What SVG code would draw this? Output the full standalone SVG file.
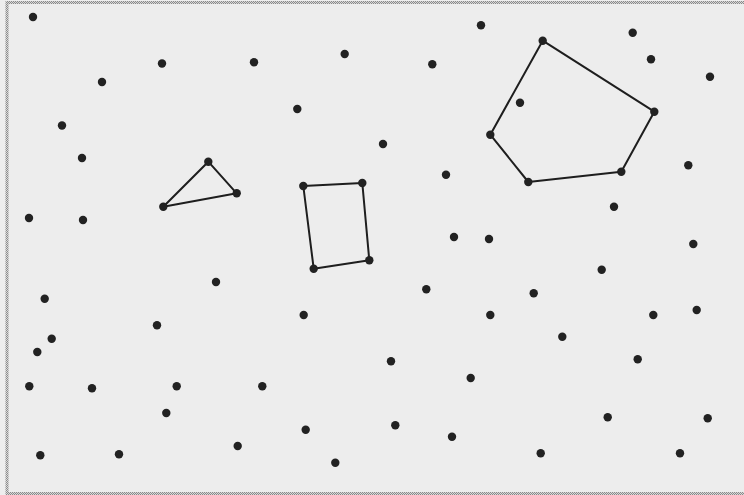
<svg xmlns="http://www.w3.org/2000/svg" width="744" height="495" viewBox="0 0 744 495">
<defs>
<pattern id="chk" patternUnits="userSpaceOnUse" width="2" height="2">
<rect width="2" height="2" fill="#d8d8d8"/>
<rect width="1" height="1" fill="#8a8a8a"/>
<rect x="1" y="1" width="1" height="1" fill="#8a8a8a"/>
</pattern>
</defs>
<style>
.pt{fill:#222222}
.edge{fill:none;stroke:#1e1e1e;stroke-width:2;stroke-linejoin:round}
</style>
<rect x="0" y="0" width="744" height="495" fill="#eeeeee"/>
<rect x="7" y="2.5" width="745" height="491" fill="#ededed" stroke="url(#chk)" stroke-width="3"/>
<g id="connectors">
<polygon class="edge" points="208.3,161.7 236.7,193.3 163.3,206.7"/>
<polygon class="edge" points="303.3,186 362.3,183 369.3,260.3 313.7,268.7"/>
<polygon class="edge" points="542.7,40.7 654.3,111.7 621.3,171.7 528.3,182 490.3,134.7"/>
</g>
<g id="nodes">
<g id="tri1"><circle class="pt" cx="208.3" cy="161.7" r="4.2"/></g>
<g id="tri2"><circle class="pt" cx="236.7" cy="193.3" r="4.2"/></g>
<g id="tri3"><circle class="pt" cx="163.3" cy="206.7" r="4.2"/></g>
<g id="quad1"><circle class="pt" cx="303.3" cy="186" r="4.2"/></g>
<g id="quad2"><circle class="pt" cx="362.3" cy="183" r="4.2"/></g>
<g id="quad3"><circle class="pt" cx="369.3" cy="260.3" r="4.2"/></g>
<g id="quad4"><circle class="pt" cx="313.7" cy="268.7" r="4.2"/></g>
<g id="pent1"><circle class="pt" cx="542.7" cy="40.7" r="4.2"/></g>
<g id="pent2"><circle class="pt" cx="654.3" cy="111.7" r="4.2"/></g>
<g id="pent3"><circle class="pt" cx="621.3" cy="171.7" r="4.2"/></g>
<g id="pent4"><circle class="pt" cx="528.3" cy="182" r="4.2"/></g>
<g id="pent5"><circle class="pt" cx="490.3" cy="134.7" r="4.2"/></g>
<g id="p1"><circle class="pt" cx="33" cy="17" r="4.2"/></g>
<g id="p2"><circle class="pt" cx="481" cy="25.3" r="4.2"/></g>
<g id="p3"><circle class="pt" cx="632.7" cy="32.7" r="4.2"/></g>
<g id="p4"><circle class="pt" cx="651" cy="59.3" r="4.2"/></g>
<g id="p5"><circle class="pt" cx="710" cy="76.7" r="4.2"/></g>
<g id="p6"><circle class="pt" cx="102" cy="82" r="4.2"/></g>
<g id="p7"><circle class="pt" cx="162" cy="63.5" r="4.2"/></g>
<g id="p8"><circle class="pt" cx="254" cy="62.3" r="4.2"/></g>
<g id="p9"><circle class="pt" cx="344.7" cy="54" r="4.2"/></g>
<g id="p10"><circle class="pt" cx="432.3" cy="64.3" r="4.2"/></g>
<g id="p11"><circle class="pt" cx="297.3" cy="109" r="4.2"/></g>
<g id="p12"><circle class="pt" cx="520" cy="102.7" r="4.2"/></g>
<g id="p13"><circle class="pt" cx="62" cy="125.5" r="4.2"/></g>
<g id="p14"><circle class="pt" cx="383" cy="144" r="4.2"/></g>
<g id="p15"><circle class="pt" cx="82" cy="158" r="4.2"/></g>
<g id="p16"><circle class="pt" cx="688.3" cy="165.3" r="4.2"/></g>
<g id="p17"><circle class="pt" cx="446" cy="174.7" r="4.2"/></g>
<g id="p18"><circle class="pt" cx="614" cy="206.7" r="4.2"/></g>
<g id="p19"><circle class="pt" cx="29" cy="218" r="4.2"/></g>
<g id="p20"><circle class="pt" cx="83" cy="220" r="4.2"/></g>
<g id="p21"><circle class="pt" cx="454" cy="237" r="4.2"/></g>
<g id="p22"><circle class="pt" cx="489" cy="239" r="4.2"/></g>
<g id="p23"><circle class="pt" cx="693.3" cy="244" r="4.2"/></g>
<g id="p24"><circle class="pt" cx="601.7" cy="269.7" r="4.2"/></g>
<g id="p25"><circle class="pt" cx="216" cy="282" r="4.2"/></g>
<g id="p26"><circle class="pt" cx="426.3" cy="289.3" r="4.2"/></g>
<g id="p27"><circle class="pt" cx="533.7" cy="293.3" r="4.2"/></g>
<g id="p28"><circle class="pt" cx="44.7" cy="298.7" r="4.2"/></g>
<g id="p29"><circle class="pt" cx="303.7" cy="315" r="4.2"/></g>
<g id="p30"><circle class="pt" cx="490.3" cy="315" r="4.2"/></g>
<g id="p31"><circle class="pt" cx="653.3" cy="315" r="4.2"/></g>
<g id="p32"><circle class="pt" cx="696.7" cy="310" r="4.2"/></g>
<g id="p33"><circle class="pt" cx="157" cy="325.3" r="4.2"/></g>
<g id="p34"><circle class="pt" cx="51.7" cy="338.7" r="4.2"/></g>
<g id="p35"><circle class="pt" cx="37.3" cy="352" r="4.2"/></g>
<g id="p36"><circle class="pt" cx="562.3" cy="336.7" r="4.2"/></g>
<g id="p37"><circle class="pt" cx="637.7" cy="359.3" r="4.2"/></g>
<g id="p38"><circle class="pt" cx="391" cy="361.3" r="4.2"/></g>
<g id="p39"><circle class="pt" cx="29.3" cy="386.3" r="4.2"/></g>
<g id="p40"><circle class="pt" cx="92" cy="388.3" r="4.2"/></g>
<g id="p41"><circle class="pt" cx="176.7" cy="386.3" r="4.2"/></g>
<g id="p42"><circle class="pt" cx="262.3" cy="386.3" r="4.2"/></g>
<g id="p43"><circle class="pt" cx="470.7" cy="378" r="4.2"/></g>
<g id="p44"><circle class="pt" cx="166.3" cy="413" r="4.2"/></g>
<g id="p45"><circle class="pt" cx="607.7" cy="417.3" r="4.2"/></g>
<g id="p46"><circle class="pt" cx="707.7" cy="418.3" r="4.2"/></g>
<g id="p47"><circle class="pt" cx="305.7" cy="429.7" r="4.2"/></g>
<g id="p48"><circle class="pt" cx="395.3" cy="425.3" r="4.2"/></g>
<g id="p49"><circle class="pt" cx="452" cy="436.7" r="4.2"/></g>
<g id="p50"><circle class="pt" cx="237.7" cy="446" r="4.2"/></g>
<g id="p51"><circle class="pt" cx="40.3" cy="455.3" r="4.2"/></g>
<g id="p52"><circle class="pt" cx="119" cy="454.3" r="4.2"/></g>
<g id="p53"><circle class="pt" cx="335.3" cy="462.7" r="4.2"/></g>
<g id="p54"><circle class="pt" cx="540.7" cy="453.3" r="4.2"/></g>
<g id="p55"><circle class="pt" cx="680" cy="453.3" r="4.2"/></g>
</g>
</svg>
